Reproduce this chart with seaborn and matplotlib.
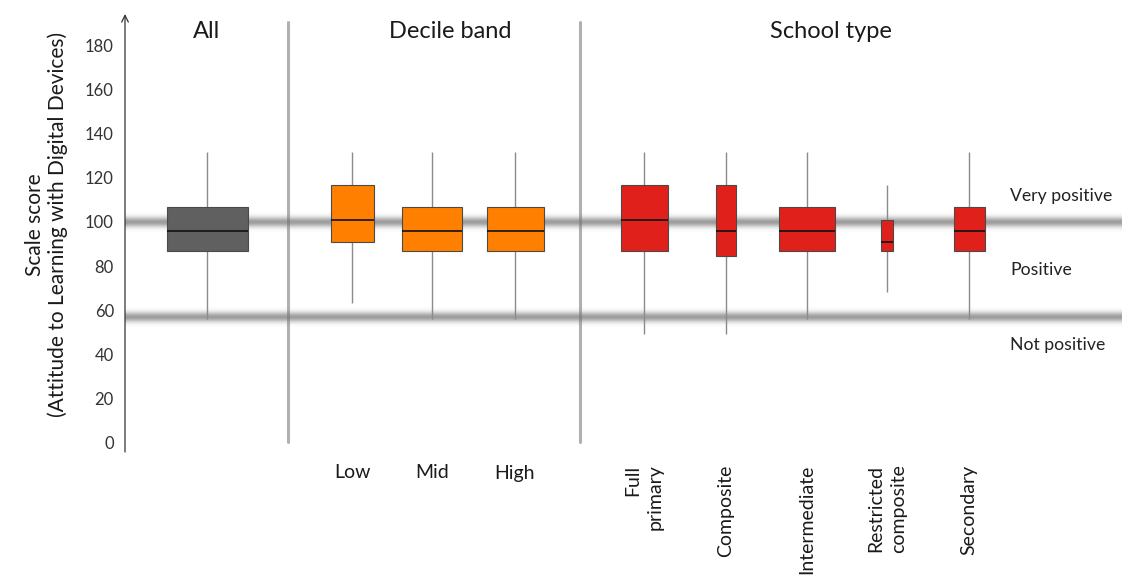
import matplotlib
matplotlib.use("Agg")
import matplotlib.pyplot as plt
import numpy as np
import pandas as pd
import seaborn as sns

# box summaries: low whisker, Q1, median, Q3, high whisker
groups = ["All", "Low", "Mid", "High", "Full\nprimary", "Composite",
          "Intermediate", "Restricted\ncomposite", "Secondary"]
whisker_low = [56, 63, 56, 56, 49, 49, 56, 68, 56]
q1 = [87, 91, 87, 87, 87, 84.5, 87, 87, 87]
median = [96, 101, 96, 96, 101, 96, 96, 91, 96]
q3 = [107, 117, 107, 107, 117, 117, 107, 101, 107]
whisker_high = [132, 132, 132, 132, 132, 132, 132, 117, 132]
box_widths = [81, 43, 60, 57, 47, 20, 56, 12, 31]

section_names = ["All", "Decile band", "School type"]
section_of_group = [0, 1, 1, 1, 2, 2, 2, 2, 2]
section_colors = ["#606060", "#FF8000", "#E0201B"]

band_levels = [100, 57]
band_labels = ["Very positive", "Positive", "Not positive"]
band_label_y = [112, 78, 44]

# layout (x in pixel-like units of the axes)
positions = [207, 352, 432, 515, 644, 726, 807, 887, 969]
separators = [288, 580]
section_centers = [207, 450, 831]

sns.set_style("white")
plt.rcParams["font.family"] = ["Lato", "DejaVu Sans"]

fig = plt.figure(figsize=(11.22, 5.76), dpi=100)
ax = fig.add_axes([125 / 1122, 1 - 452 / 576, 1 - 125 / 1122, (452 - 14) / 576])

for i, name in enumerate(groups):
    df = pd.DataFrame({
        "x": [positions[i]] * 5,
        "score": [whisker_low[i], q1[i], median[i], q3[i], whisker_high[i]],
    })
    sns.boxplot(
        data=df, x="x", y="score", native_scale=True, width=box_widths[i],
        color=section_colors[section_of_group[i]], saturation=1,
        whis=(0, 100), showcaps=False, showfliers=False,
        linecolor="#4a4a4a", linewidth=0.8,
        medianprops=dict(color="#111111", linewidth=1.2, zorder=4),
        whiskerprops=dict(color="#8a8a8a", linewidth=1.0, zorder=2.5),
        boxprops=dict(zorder=3), ax=ax,
    )

# separators between sections
for sx in separators:
    ax.plot([sx, sx], [0, 191], color="#b0b0b0", linewidth=2.2, zorder=1, clip_on=False)

# soft grey bands at the category thresholds
half = 4.5
prof = np.linspace(-1, 1, 61)
alpha = 0.7 * np.exp(-(prof / 0.5) ** 2)
rgba = np.zeros((len(prof), 2, 4))
rgba[..., :3] = 0.45
rgba[..., 3] = alpha[:, None]
for lvl in band_levels:
    ax.imshow(rgba, extent=(125, 1122, lvl - half, lvl + half), aspect="auto",
              origin="lower", zorder=1.5, interpolation="bilinear")

# section titles
for name, cx in zip(section_names, section_centers):
    ax.text(cx, 186.5, name, ha="center", va="center", fontsize=17, color="#1a1a1a")

for lab, ly in zip(band_labels, band_label_y):
    ax.text(1010, ly, lab, ha="left", va="center", fontsize=12.7, color="#222222")

ax.set_xlim(125, 1122)
ax.set_ylim(-4.5, 194.5)
ax.set_yticks(np.arange(0, 181, 20))
ax.tick_params(axis="y", labelsize=12, length=5, width=0.8, color="#333333",
               labelcolor="#333333", pad=3)

ax.set_xticks(positions)
ax.set_xticklabels([""] + groups[1:])
ax.tick_params(axis="x", length=0, pad=9, labelsize=14, labelcolor="#1a1a1a")
for i, lab in enumerate(ax.get_xticklabels()):
    if section_of_group[i] == 2:
        lab.set_rotation(90)
        lab.set_va("top")
        lab.set_ha("center")
        lab.set_multialignment("right")
        lab.set_linespacing(1.4)

ax.set_xlabel("")
ax.set_ylabel("Scale score\n(Attitude to Learning with Digital Devices)",
              fontsize=15, color="#1a1a1a", linespacing=1.15)
ax.yaxis.set_label_coords(-0.057, 0.52)

for side in ["top", "right", "bottom", "left"]:
    ax.spines[side].set_visible(False)
ax.annotate("", xy=(0, 1), xycoords="axes fraction", xytext=(0, 0),
            arrowprops=dict(arrowstyle="->", color="#333333", linewidth=0.9,
                            mutation_scale=12, shrinkA=0, shrinkB=0),
            annotation_clip=False)

fig.savefig("out.png", dpi=100)
